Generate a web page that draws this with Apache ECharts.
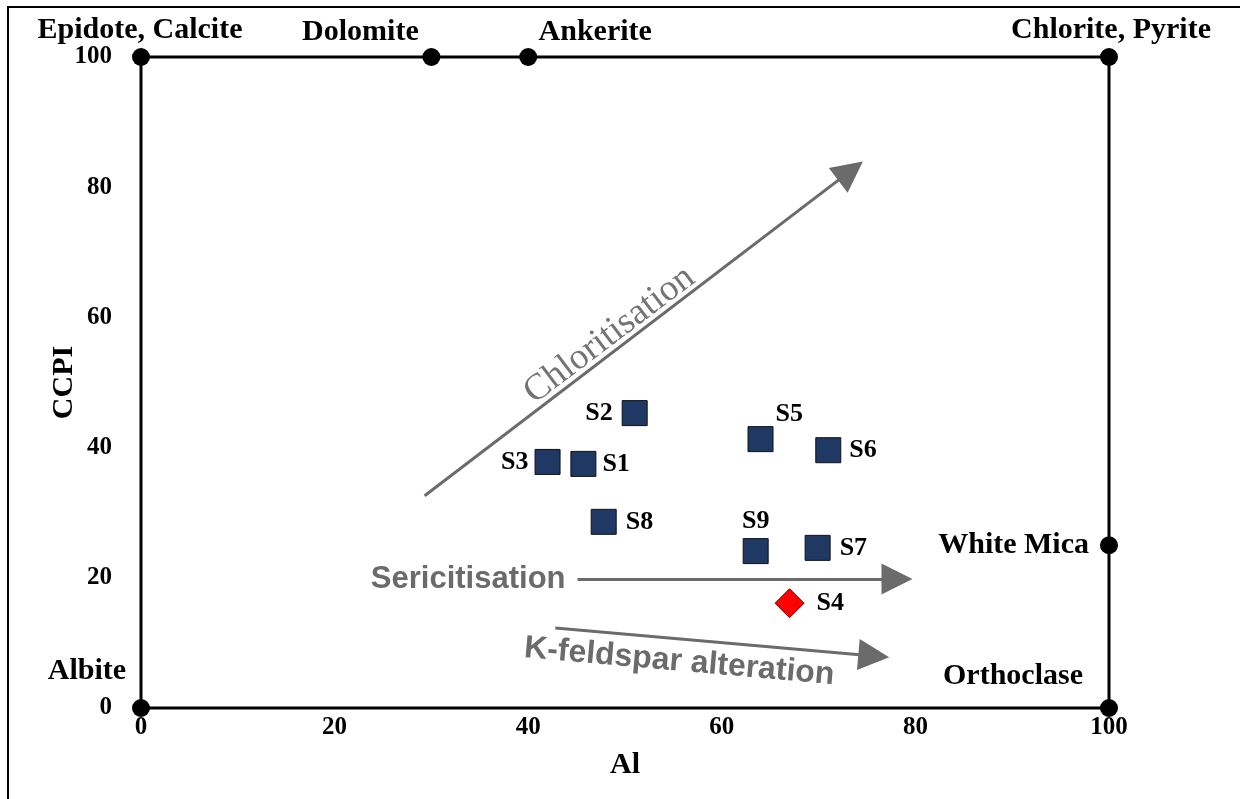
<!DOCTYPE html>
<html>
<head>
<meta charset="utf-8">
<script src="https://cdn.jsdelivr.net/npm/echarts@6/dist/echarts.min.js"></script>
<style>
  html, body { margin: 0; padding: 0; background: #fff; }
  #chart { width: 1240px; height: 799px; }
</style>
</head>
<body>
<div id="chart"></div>
<script>
// Drill-core samples: AI (Al) against CCPI
const sampleNames = ['S1', 'S2', 'S3', 'S5', 'S6', 'S7', 'S8', 'S9'];
const sampleAl    = [45.7, 51.0, 42.0, 64.0, 71.0, 69.9, 47.8, 63.5];
const sampleCCPI  = [37.5, 45.3, 37.8, 41.3, 39.6, 24.6, 28.6, 24.1];

// Distinct sample
const outlierNames = ['S4'];
const outlierAl    = [67.0];
const outlierCCPI  = [16.1];

// Mineral end-members on the box frame
const mineralNames = ['Epidote, Calcite', 'Dolomite', 'Ankerite', 'Chlorite, Pyrite', 'White Mica', 'Albite', 'Orthoclase'];
const mineralAl    = [0, 30, 40, 100, 100, 0, 100];
const mineralCCPI  = [100, 100, 100, 100, 25, 0, 0];

// Alteration trend arrows (start / end in Al, CCPI)
const trendNames = ['Chloritisation', 'Sericitisation', 'K-feldspar alteration'];
const trendFrom  = [[29.3, 32.6], [45.1, 19.8], [42.8, 12.3]];
const trendTo    = [[73.3, 82.5], [78.1, 19.8], [75.7, 8.0]];

// Axis ticks
const axisMin = 0, axisMax = 100, axisStep = 20;

const SERIF = '"Liberation Serif", "Times New Roman", serif';
const SANS = '"Liberation Sans", Arial, sans-serif';
const GREY = '#6b6b6b';

// label placement for each sample, keyed by name
const sampleLabelPos = {
  S1: { position: 'right', distance: 6 },
  S2: { position: 'left', distance: 9 },
  S3: { position: 'left', distance: 6 },
  S5: { position: 'right', distance: 2, offset: [0, -25] },
  S6: { position: 'right', distance: 8 },
  S7: { position: 'right', distance: 9 },
  S8: { position: 'right', distance: 9 },
  S9: { position: 'top', distance: 4 },
  S4: { position: 'right', distance: 12 }
};

// label placement for end-member names
const mineralLabelPos = {
  'Epidote, Calcite': { position: 'top', offset: [-1, 2] },
  'Dolomite':         { position: 'top', offset: [-71, 4] },
  'Ankerite':         { position: 'top', offset: [67, 4] },
  'Chlorite, Pyrite': { position: 'top', offset: [2, 2] },
  'White Mica':       { position: 'left', distance: 11 },
  'Albite':           { position: 'top', offset: [-54, -8] },
  'Orthoclase':       { position: 'top', offset: [-96, -3] }
};

// text annotations of the trend arrows (Al, CCPI anchor and angle in degrees)
const trendText = [
  { text: 'Chloritisation', at: [48.4, 57.3], angle: 37.2, font: 'normal 37px ' + SERIF, color: '#747474' },
  { text: 'Sericitisation', at: [33.8, 19.8], angle: 0, font: 'bold 31px ' + SANS, color: GREY },
  { text: 'K-feldspar alteration', at: [55.6, 7.1], angle: -5, font: 'bold 32px ' + SANS, color: GREY }
];

function makePoints(names, xs, ys, posMap, labelFont) {
  return names.map((n, i) => {
    const p = posMap[n] || {};
    return {
      name: n,
      value: [xs[i], ys[i]],
      label: Object.assign({ show: true, formatter: n, color: '#000', fontFamily: SERIF, fontWeight: 'bold', fontSize: labelFont }, p)
    };
  });
}

const chart = echarts.init(document.getElementById('chart'), null, { renderer: 'canvas' });

const option = {
  animation: false,
  backgroundColor: '#fff',
  grid: {
    left: 141, right: 131, top: 57, bottom: 91,
    show: true, borderColor: '#000', borderWidth: 3, backgroundColor: 'transparent'
  },
  xAxis: {
    type: 'value', min: axisMin, max: axisMax, interval: axisStep,
    name: 'Al', nameLocation: 'middle', nameGap: 42, nameMoveOverlap: false,
    nameTextStyle: { fontFamily: SERIF, fontWeight: 'bold', fontSize: 30, color: '#000' },
    axisLine: { show: false }, axisTick: { show: false }, splitLine: { show: false },
    axisLabel: { margin: 7, fontFamily: SERIF, fontWeight: 'bold', fontSize: 25, color: '#000' }
  },
  yAxis: {
    type: 'value', min: axisMin, max: axisMax, interval: axisStep,
    name: 'CCPI', nameLocation: 'middle', nameGap: 62, nameRotate: 90, nameMoveOverlap: false,
    nameTextStyle: { fontFamily: SERIF, fontWeight: 'bold', fontSize: 30, color: '#000' },
    axisLine: { show: false }, axisTick: { show: false }, splitLine: { show: false },
    axisLabel: { margin: 29, fontFamily: SERIF, fontWeight: 'bold', fontSize: 25, color: '#000' }
  },
  series: [
    {
      name: 'trends', type: 'lines', coordinateSystem: 'cartesian2d', z: 3,
      symbol: ['none', 'triangle'], symbolSize: 31,
      lineStyle: { color: GREY, width: 3, opacity: 1, curveness: 0 },
      silent: true,
      data: trendNames.map((n, i) => ({ name: n, coords: [trendFrom[i], trendTo[i]] }))
    },
    {
      name: 'end-members', type: 'scatter', z: 5, symbol: 'circle', symbolSize: 18,
      itemStyle: { color: '#000', opacity: 1 },
      data: makePoints(mineralNames, mineralAl, mineralCCPI, mineralLabelPos, 30)
    },
    {
      name: 'samples', type: 'scatter', z: 6, symbol: 'rect', symbolSize: 25,
      itemStyle: { color: '#1f3864', borderColor: '#111', borderWidth: 1, opacity: 1 },
      data: makePoints(sampleNames, sampleAl, sampleCCPI, sampleLabelPos, 26)
    },
    {
      name: 'S4', type: 'scatter', z: 6, symbol: 'diamond', symbolSize: 29,
      itemStyle: { color: '#ff0000', borderColor: '#7a0000', borderWidth: 1, opacity: 1 },
      data: makePoints(outlierNames, outlierAl, outlierCCPI, sampleLabelPos, 26)
    }
  ]
};

chart.setOption(option);

// outer frame plus trend captions placed through the axes
const graphics = [{
  type: 'rect', silent: true, z: 0,
  shape: { x: 8, y: 7, width: 1240, height: 800 },
  style: { fill: 'none', stroke: '#000', lineWidth: 2 }
}];
trendText.forEach(t => {
  const px = chart.convertToPixel({ gridIndex: 0 }, t.at);
  graphics.push({
    type: 'text', silent: true, z: 10,
    x: px[0], y: px[1], rotation: t.angle * Math.PI / 180,
    style: { text: t.text, font: t.font, fill: t.color, align: 'center', verticalAlign: 'middle' }
  });
});
chart.setOption({ graphic: graphics });
</script>
</body>
</html>
